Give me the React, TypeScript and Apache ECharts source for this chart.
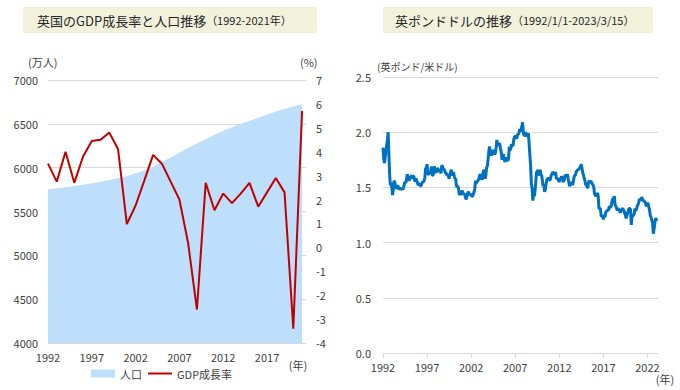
import React, { useEffect, useRef } from "react";
import * as echarts from "echarts";

const years = [1992, 1993, 1994, 1995, 1996, 1997, 1998, 1999, 2000, 2001, 2002, 2003, 2004, 2005, 2006, 2007, 2008, 2009, 2010, 2011, 2012, 2013, 2014, 2015, 2016, 2017, 2018, 2019, 2020, 2021];
const population = [5753, 5765, 5778, 5792, 5806, 5822, 5840, 5860, 5880, 5905, 5935, 5968, 6010, 6065, 6115, 6170, 6225, 6275, 6325, 6375, 6420, 6460, 6500, 6532, 6570, 6605, 6640, 6670, 6698, 6722];
const gdpGrowth = [3.5, 2.75, 4.0, 2.7, 3.8, 4.45, 4.5, 4.8, 4.1, 0.97, 1.75, 2.8, 3.87, 3.5, 2.75, 2.0, 0.17, -2.6, 2.7, 1.55, 2.25, 1.85, 2.25, 2.7, 1.7, 2.3, 2.9, 2.3, -3.4, 5.7];

// GBP/USD, monthly, Jan 1992 - Mar 2023
const gbpStartYear = 1992;
const gbpUsd = [
  1.86, 1.76, 1.72, 1.77, 1.83, 1.88, 1.93, 2.0, 1.8, 1.62, 1.52, 1.54,
  1.5, 1.43, 1.48, 1.56, 1.55, 1.51, 1.49, 1.5, 1.52, 1.5, 1.48, 1.49,
  1.49, 1.48, 1.49, 1.48, 1.5, 1.53, 1.55, 1.54, 1.57, 1.62, 1.59, 1.56,
  1.57, 1.58, 1.6, 1.61, 1.58, 1.6, 1.6, 1.56, 1.56, 1.58, 1.56, 1.54,
  1.52, 1.53, 1.53, 1.51, 1.52, 1.54, 1.55, 1.55, 1.56, 1.59, 1.67, 1.68,
  1.71, 1.62, 1.62, 1.63, 1.63, 1.65, 1.69, 1.61, 1.61, 1.63, 1.69, 1.66,
  1.64, 1.64, 1.67, 1.67, 1.64, 1.65, 1.64, 1.63, 1.7, 1.69, 1.66, 1.67,
  1.65, 1.63, 1.63, 1.61, 1.62, 1.6, 1.58, 1.61, 1.64, 1.66, 1.62, 1.61,
  1.64, 1.6, 1.58, 1.58, 1.51, 1.51, 1.51, 1.48, 1.43, 1.45, 1.43, 1.46,
  1.47, 1.45, 1.44, 1.44, 1.42, 1.39, 1.41, 1.44, 1.46, 1.45, 1.43, 1.44,
  1.43, 1.42, 1.42, 1.44, 1.46, 1.49, 1.56, 1.54, 1.55, 1.56, 1.57, 1.59,
  1.62, 1.6, 1.58, 1.57, 1.62, 1.66, 1.62, 1.58, 1.61, 1.68, 1.69, 1.75,
  1.82, 1.87, 1.83, 1.8, 1.79, 1.82, 1.84, 1.82, 1.8, 1.81, 1.86, 1.93,
  1.88, 1.89, 1.9, 1.89, 1.85, 1.82, 1.75, 1.79, 1.8, 1.76, 1.73, 1.75,
  1.77, 1.75, 1.74, 1.77, 1.87, 1.84, 1.85, 1.89, 1.88, 1.88, 1.93, 1.96,
  1.96, 1.96, 1.94, 1.98, 1.98, 1.99, 2.03, 2.01, 2.02, 2.05, 2.09, 2.0,
  1.97, 1.97, 2.0, 1.98, 1.96, 1.97, 1.99, 1.89, 1.79, 1.69, 1.53, 1.49,
  1.38, 1.44, 1.42, 1.47, 1.55, 1.64, 1.64, 1.66, 1.61, 1.62, 1.66, 1.61,
  1.61, 1.56, 1.51, 1.53, 1.46, 1.48, 1.53, 1.57, 1.58, 1.58, 1.58, 1.56,
  1.58, 1.61, 1.62, 1.64, 1.63, 1.62, 1.62, 1.64, 1.58, 1.58, 1.58, 1.56,
  1.55, 1.58, 1.58, 1.6, 1.59, 1.55, 1.56, 1.57, 1.61, 1.61, 1.6, 1.62,
  1.58, 1.55, 1.51, 1.53, 1.53, 1.55, 1.52, 1.55, 1.59, 1.61, 1.61, 1.64,
  1.65, 1.66, 1.66, 1.67, 1.68, 1.69, 1.71, 1.67, 1.63, 1.61, 1.58, 1.56,
  1.52, 1.53, 1.5, 1.5, 1.55, 1.56, 1.55, 1.56, 1.54, 1.53, 1.52, 1.5,
  1.44, 1.43, 1.42, 1.43, 1.45, 1.42, 1.31, 1.31, 1.31, 1.24, 1.24, 1.24,
  1.21, 1.25, 1.23, 1.26, 1.29, 1.28, 1.3, 1.29, 1.33, 1.32, 1.32, 1.34,
  1.38, 1.4, 1.4, 1.42, 1.34, 1.33, 1.31, 1.29, 1.31, 1.3, 1.29, 1.27,
  1.29, 1.3, 1.31, 1.3, 1.29, 1.27, 1.25, 1.22, 1.24, 1.27, 1.29, 1.31,
  1.31, 1.3, 1.16, 1.24, 1.24, 1.25, 1.26, 1.31, 1.29, 1.3, 1.33, 1.34,
  1.36, 1.39, 1.39, 1.38, 1.41, 1.4, 1.38, 1.38, 1.37, 1.37, 1.34, 1.33,
  1.36, 1.35, 1.32, 1.29, 1.24, 1.23, 1.2, 1.18, 1.08, 1.12, 1.17, 1.22,
  1.21, 1.21, 1.21,
];

const FONT = "'Noto Sans CJK JP', 'Noto Sans', sans-serif";
const LABEL = "#404040";
const GRID = "#D9D9D9";

export default function App() {
  const ref = useRef<HTMLDivElement>(null);

  useEffect(() => {
    if (!ref.current) return;
    const chart = echarts.init(ref.current, undefined, { renderer: "svg" });
    const popData = years.map((y, i) => [y, population[i]]);
    const gdpData = years.map((y, i) => [y, gdpGrowth[i]]);
    const fxData = gbpUsd.map((v, i) => [gbpStartYear + i / 12, v]);

    const axisLabel = { color: LABEL, fontSize: 11, fontFamily: FONT };

    chart.setOption({
      animation: false,
      backgroundColor: "#ffffff",
      textStyle: { fontFamily: FONT },
      grid: [
        { left: 48, right: 374, top: 80, bottom: 47 },
        { left: 383, right: 22, top: 77, bottom: 37 },
      ],
      legend: {
        left: 91,
        top: 368,
        padding: 0,
        itemWidth: 24,
        itemHeight: 8,
        itemGap: 6,
        textStyle: { color: LABEL, fontSize: 11, fontFamily: FONT },
        data: [
          { name: "人口", icon: "rect" },
          { name: "GDP成長率", icon: "path://M0,0 L24,0 L24,2 L0,2 Z" },
        ],
      },
      xAxis: [
        {
          type: "value",
          gridIndex: 0,
          min: 1992,
          max: 2021.45,
          interval: 5,
          axisLine: { show: false },
          axisTick: { show: false },
          splitLine: { show: false },
          axisLabel: { ...axisLabel, margin: 8, showMaxLabel: false, formatter: (v: number) => String(v) },
        },
        {
          type: "value",
          gridIndex: 1,
          min: 1992,
          max: 2023.2,
          interval: 5,
          axisLine: { show: true, lineStyle: { color: GRID } },
          axisTick: { show: true, length: 5, lineStyle: { color: GRID } },
          splitLine: { show: false },
          axisLabel: { ...axisLabel, margin: 8, showMaxLabel: false, formatter: (v: number) => String(v) },
        },
      ],
      yAxis: [
        {
          type: "value",
          gridIndex: 0,
          min: 4000,
          max: 7000,
          interval: 500,
          axisLine: { show: false },
          axisTick: { show: false },
          splitLine: { show: true, lineStyle: { color: GRID } },
          axisLabel: { ...axisLabel, margin: 10, formatter: (v: number) => String(v) },
        },
        {
          type: "value",
          gridIndex: 0,
          position: "right",
          min: -4,
          max: 7,
          interval: 1,
          axisLine: { show: false },
          axisTick: { show: false },
          splitLine: { show: false },
          axisLabel: { ...axisLabel, margin: 10, formatter: (v: number) => String(v) },
        },
        {
          type: "value",
          gridIndex: 1,
          min: 0,
          max: 2.5,
          interval: 0.5,
          axisLine: { show: false },
          axisTick: { show: false },
          splitLine: { show: true, lineStyle: { color: GRID } },
          axisLabel: { ...axisLabel, margin: 12, formatter: (v: number) => v.toFixed(1) },
        },
      ],
      series: [
        {
          name: "人口",
          type: "line",
          xAxisIndex: 0,
          yAxisIndex: 0,
          data: popData,
          symbol: "none",
          color: "#BDDFFB",
          lineStyle: { width: 0 },
          areaStyle: { color: "#BDDFFB", opacity: 1, origin: "start" },
          z: 1,
        },
        {
          name: "GDP成長率",
          type: "line",
          xAxisIndex: 0,
          yAxisIndex: 1,
          data: gdpData,
          symbol: "none",
          color: "#C00000",
          lineStyle: { width: 2, color: "#C00000" },
          z: 3,
        },
        {
          name: "英ポンド/米ドル",
          type: "line",
          xAxisIndex: 1,
          yAxisIndex: 2,
          data: fxData,
          symbol: "none",
          color: "#0070C0",
          lineStyle: { width: 3, color: "#0070C0" },
          z: 3,
        },
      ],
      graphic: [
        { type: "rect", shape: { x: 23, y: 7, width: 294, height: 26 }, style: { fill: "#F2F2DC" }, silent: true },
        {
          type: "text",
          x: 37,
          y: 20,
          style: {
            text: "{a|英国のGDP成長率と人口推移}{b|（1992-2021年）}",
            verticalAlign: "middle",
            rich: {
              a: { fontSize: 13, fontFamily: FONT, fill: "#262626" },
              b: { fontSize: 11, fontFamily: FONT, fill: "#262626" },
            },
          },
        },
        { type: "rect", shape: { x: 383, y: 7, width: 270, height: 26 }, style: { fill: "#F2F2DC" }, silent: true },
        {
          type: "text",
          x: 395,
          y: 20,
          style: {
            text: "{a|英ポンドドルの推移}{b|（1992/1/1-2023/3/15）}",
            verticalAlign: "middle",
            rich: {
              a: { fontSize: 13, fontFamily: FONT, fill: "#262626" },
              b: { fontSize: 11, fontFamily: FONT, fill: "#262626" },
            },
          },
        },
        { type: "text", x: 28, y: 62, style: { text: "(万人)", fontSize: 11, fontFamily: FONT, fill: LABEL, verticalAlign: "middle" } },
        { type: "text", x: 300, y: 62, style: { text: "(%)", fontSize: 11, fontFamily: FONT, fill: LABEL, verticalAlign: "middle" } },
        { type: "text", x: 298, y: 365, style: { text: "(年)", fontSize: 11, fontFamily: FONT, fill: LABEL, align: "center", verticalAlign: "middle" } },
        { type: "text", x: 377, y: 66, style: { text: "(英ポンド/米ドル)", fontSize: 10, fontFamily: FONT, fill: LABEL, verticalAlign: "middle" } },
        { type: "text", x: 665, y: 379, style: { text: "(年)", fontSize: 11, fontFamily: FONT, fill: LABEL, align: "center", verticalAlign: "middle" } },
      ],
    });
    return () => chart.dispose();
  }, []);

  return <div ref={ref} style={{ position: "fixed", left: 0, top: 0, width: 680, height: 390, background: "#fff" }} />;
}
